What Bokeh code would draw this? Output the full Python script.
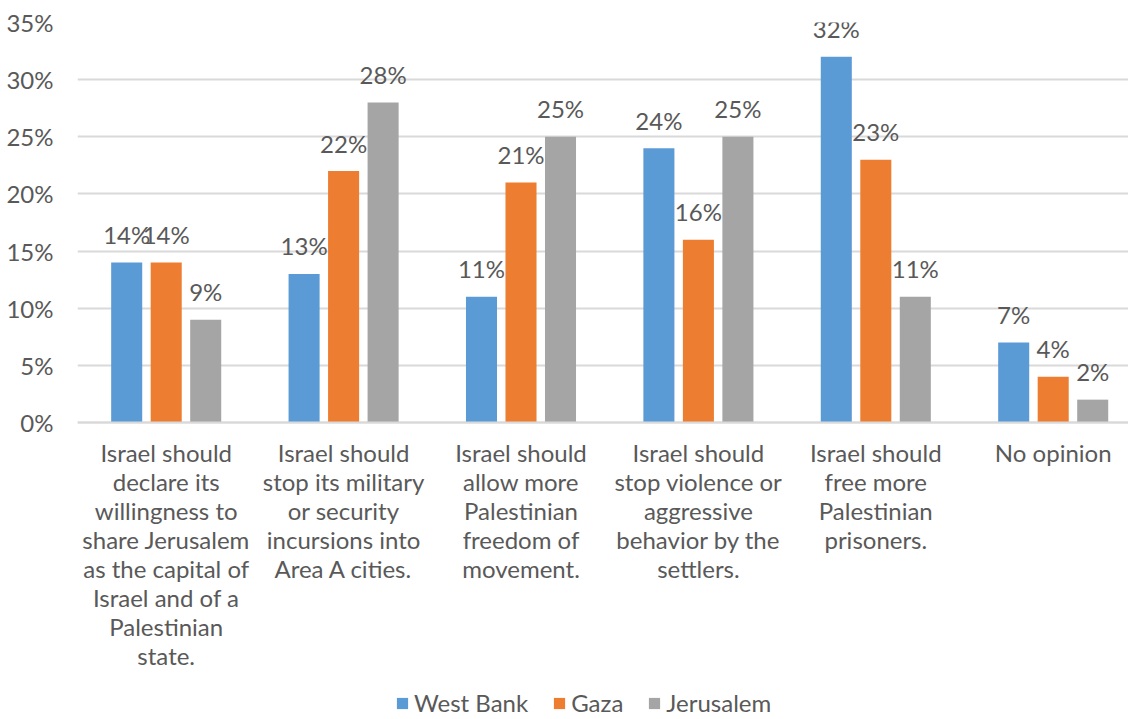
from bokeh.plotting import figure
from bokeh.models import ColumnDataSource, Range1d, Legend, LegendItem, PrintfTickFormatter, FixedTicker, Span
from bokeh.transform import dodge
from bokeh.embed import file_html
from bokeh.resources import INLINE
from bokeh.core.properties import value

categories = [
    "Israel should\ndeclare its\nwillingness to\nshare Jerusalem\nas the capital of\nIsrael and of a\nPalestinian\nstate.",
    "Israel should\nstop its military\nor security\nincursions into\nArea A cities.",
    "Israel should\nallow more\nPalestinian\nfreedom of\nmovement.",
    "Israel should\nstop violence or\naggressive\nbehavior by the\nsettlers.",
    "Israel should\nfree more\nPalestinian\nprisoners.",
    "No opinion",
]
series_names = ["West Bank", "Gaza", "Jerusalem"]
west_bank = [14, 13, 11, 24, 32, 7]
gaza = [14, 22, 21, 16, 23, 4]
jerusalem = [9, 28, 25, 25, 11, 2]
y_ticks = [0, 5, 10, 15, 20, 25, 30, 35]

colors = ["#5B9BD5", "#ED7D31", "#A5A5A5"]
FONT = "Lato"
FS = "24px"
TXT = "#595959"

W = 1128
H = 718
LEFT = 77
TOP = 22
ZERO_PX = 422
PX_PER_UNIT = 400 / 35.0
CAT_PX = 177.4
y_min = -(H - ZERO_PX) / PX_PER_UNIT
x_end = -0.5 + (W - LEFT) / CAT_PX

src = ColumnDataSource(data=dict(
    idx=list(range(len(categories))),
    cat=categories,
    zero=[0] * len(categories),
    wb=west_bank, gz=gaza, je=jerusalem,
    wb_l=[f"{v}%" for v in west_bank],
    gz_l=[f"{v}%" for v in gaza],
    je_l=[f"{v}%" for v in jerusalem],
))

p = figure(x_range=Range1d(-0.5, x_end), y_range=Range1d(y_min, 35),
           width=W, height=H, output_backend="svg", toolbar_location=None,
           min_border_left=LEFT, min_border_top=TOP, min_border_right=0, min_border_bottom=0)
p.outline_line_color = None
p.background_fill_color = "white"
p.xaxis.visible = False

renderers = []
for key, off, col in [("wb", -0.2227, colors[0]), ("gz", 0.0, colors[1]), ("je", 0.2227, colors[2])]:
    r = p.vbar(x=dodge("idx", off), top=key, width=0.175, source=src,
               fill_color=col, line_color=None)
    renderers.append(r)
    p.text(x=dodge("idx", off), y=key, text=key + "_l", source=src,
           text_align="center", text_baseline="alphabetic", y_offset=-28,
           text_font=value(FONT), text_font_size=FS, text_color=TXT)

# category labels under the baseline
p.text(x="idx", y="zero", text="cat", source=src, text_align="center", text_baseline="top",
       y_offset=15, text_font=value(FONT), text_font_size=FS, text_color=TXT,
       text_line_height=1.0)

p.add_layout(Span(location=0, dimension="width", line_color="#D9D9D9", line_width=2))

legend = Legend(items=[LegendItem(label=n, renderers=[r]) for n, r in zip(series_names, renderers)],
                orientation="horizontal", location=(318, 1), border_line_color=None,
                background_fill_alpha=0,
                label_text_font=FONT, label_text_font_size=FS, label_text_color=TXT,
                glyph_width=14, glyph_height=14, spacing=24, label_standoff=5,
                padding=0, margin=0)
p.add_layout(legend, "center")

p.yaxis.ticker = FixedTicker(ticks=y_ticks)
p.yaxis.formatter = PrintfTickFormatter(format="%d%%")
p.yaxis.axis_line_color = None
p.yaxis.major_tick_line_color = None
p.yaxis.minor_tick_line_color = None
p.yaxis.major_label_standoff = 18
p.yaxis.major_label_text_font = FONT
p.yaxis.major_label_text_font_size = FS
p.yaxis.major_label_text_color = TXT

p.xgrid.grid_line_color = None
p.ygrid.grid_line_color = "#D9D9D9"
p.ygrid.grid_line_width = 2

open("out.html", "w").write(file_html(p, INLINE))
